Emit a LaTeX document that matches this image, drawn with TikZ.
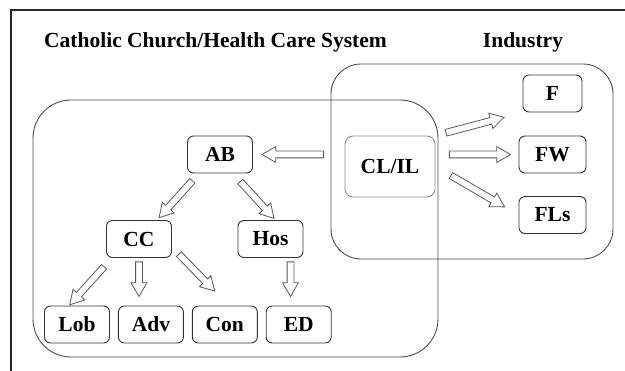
\documentclass[tikz,border=0pt]{standalone}
\usepackage{fontspec}
\setmainfont{Liberation Serif}
\usetikzlibrary{shapes.arrows,positioning,calc}

\begin{document}
\begin{tikzpicture}[x=1pt, y=-1pt, node distance=8pt,
  blk/.style={draw=black!80, rounded corners=6pt, line width=0.9pt, minimum width=65pt, minimum height=37pt, inner sep=1pt, font=\bfseries\fontsize{21.5}{24}\selectfont},
  hbody/.style={single arrow, draw=black!65, fill=white, line width=0.8pt, inner xsep=0pt, inner ysep=3pt, single arrow head extend=4.5pt, single arrow tip angle=60},
  harrow/.style 2 args={to path={let \p1=(\tikztostart), \p2=(\tikztotarget),
      \n1={atan2(\y2-\y1,\x2-\x1)}, \n2={veclen(\x2-\x1,\y2-\y1)} in
      ($(\p1)!{(\n2+#1-#2)/2}!(\p2)$) node[hbody, rotate=\n1, minimum height={\n2-#1-#2}] {}}}]
\useasboundingbox (0,0) rectangle (625,371);
\draw[black!85, line width=1.2pt] (11,371) -- (11,10) -- (625,10);

\node[anchor=base, font=\bfseries\fontsize{21.5}{24}\selectfont] (t1) at (215.5,48) {Catholic Church/Health Care System};
\node[anchor=base, font=\bfseries\fontsize{21.5}{24}\selectfont] (t2) at (523,48) {Industry};

\draw[black!70, line width=0.9pt, rounded corners=38pt] (33,100) rectangle (438,357);
\draw[black!70, line width=0.9pt, rounded corners=30pt] (331,64) rectangle (613,259);

\node[blk, draw=black!45, minimum width=90pt, minimum height=61pt, rounded corners=8pt] (clil) at (390,166.5) {CL/IL};
\node[blk, minimum width=59pt] (f) at (552.5,93.5) {F};
\node[blk, minimum width=67pt] (fw) at (552.5,154.5) {FW};
\node[blk, minimum width=67pt] (fls) at (552.5,215) {FLs};

\node[blk] (ab) at (220,154.5) {AB};
\node[blk] (cc) at (139,239) {CC};
\node[blk] (hos) at (270.5,239) {Hos};
\node[blk] (lob) at (77,324.5) {Lob};
\node[blk, right=of lob] (adv) {Adv};
\node[blk, right=of adv] (con) {Con};
\node[blk, right=of con] (ed) {ED};

\path (clil.west |- ab.east) to[harrow={18pt}{12pt}] (ab.east)
  (clil.north east) to[harrow={8pt}{22pt}] (f.south west)
  (clil.east |- fw.west) to[harrow={11pt}{11pt}] (fw.west)
  (clil.east) to[harrow={15pt}{19pt}] (fls.west)
  ([xshift=12pt]ab.south west) to[harrow={7pt}{6pt}] ([xshift=-15pt]cc.north east)
  ([xshift=-20pt]ab.south east) to[harrow={8pt}{5pt}] ([xshift=5pt]hos.north)
  ([xshift=6pt]cc.south west) to[harrow={9pt}{4pt}] ([xshift=-8pt]lob.north)
  (cc.south) to[harrow={1pt}{12pt}] (cc.south |- adv.north)
  ([yshift=-8pt]cc.east) to[harrow={7pt}{23pt}] ([xshift=4pt]con.north)
  ([xshift=20pt]hos.south) to[harrow={1pt}{12pt}] ([xshift=20pt]hos.south |- ed.north);
\end{tikzpicture}
\end{document}
